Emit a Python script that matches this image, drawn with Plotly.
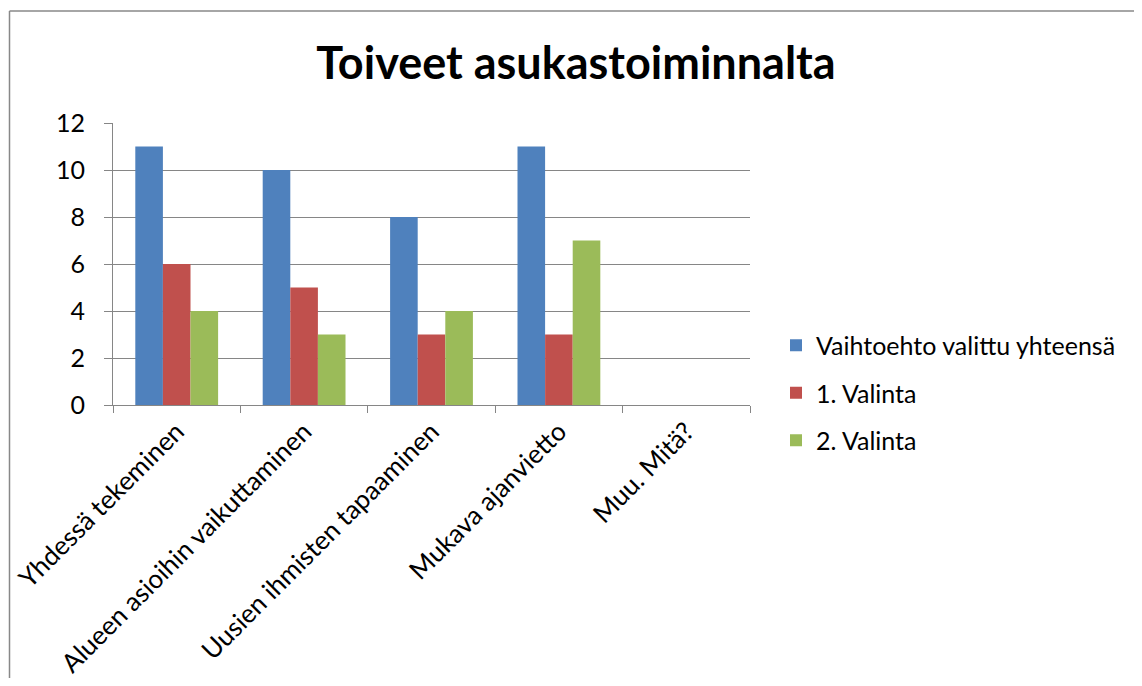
import plotly.graph_objects as go

categories = ["Yhdessä tekeminen", "Alueen asioihin vaikuttaminen",
              "Uusien ihmisten tapaaminen", "Mukava ajanvietto", "Muu. Mitä?"]
series_names = ["Vaihtoehto valittu yhteensä", "1. Valinta", "2. Valinta"]
total_values = [11, 10, 8, 11, 0]
first_values = [6, 5, 3, 3, 0]
second_values = [4, 3, 4, 7, 0]
colors = ["#4F81BD", "#C0504D", "#9BBB59"]

FONT = "Lato, Carlito, Calibri, 'Open Sans', sans-serif"

fig = go.Figure()
for i, (name, vals) in enumerate(zip(series_names, [total_values, first_values, second_values])):
    fig.add_trace(go.Bar(x=categories, y=vals, name=name, marker_color=colors[i],
                         marker_line_width=0, legendgroup=f"g{i}"))

OFF = 8  # page body margin
W, H = 1142 - 2 * OFF, 686 - 2 * OFF
# plot area in page pixels: x 113..750, y 123..405
L = 113 - OFF
T = 123 - OFF
R = W - (750 - OFF)
B = H - (405 - OFF)
pw = W - L - R
ph = H - T - B

def px_x(p):
    return (p - OFF - L) / pw

def px_y(p):
    return (H - B - (p - OFF)) / ph

border = dict(color="#888888", width=1.5)

fig.update_layout(
    width=W, height=H,
    margin=dict(l=L, r=R, t=T, b=B, autoexpand=False),
    plot_bgcolor="white", paper_bgcolor="white",
    font=dict(family=FONT, size=25, color="black"),
    title=dict(text="<b>Toiveet asukastoiminnalta</b>", x=px_x(576), xref="paper",
               xanchor="center", y=1 - (63 - OFF) / H, yanchor="middle",
               font=dict(family=FONT, size=45, color="black")),
    barmode="group", bargap=0.35, bargroupgap=0,
    showlegend=True,
    legend=dict(x=px_x(776), xanchor="left", y=px_y(393), yanchor="middle",
                font=dict(family=FONT, size=25), tracegroupgap=12,
                bgcolor="rgba(0,0,0,0)"),
    xaxis=dict(showline=True, linecolor="#868686", linewidth=1, automargin=False,
               ticks="outside", tickson="boundaries", ticklen=7, tickcolor="#868686",
               tickangle=-45, showgrid=False, tickfont=dict(family=FONT, size=26)),
    yaxis=dict(range=[0, 12], dtick=2, showline=True, linecolor="#868686", linewidth=1,
               automargin=False,
               ticks="outside", ticklen=8, tickcolor="#868686",
               showgrid=True, gridcolor="#868686", gridwidth=1, zeroline=False,
               tickfont=dict(family=FONT, size=25), ticklabelstandoff=14),
    shapes=[
        dict(type="line", xref="paper", yref="paper",
             x0=px_x(9.5), x1=px_x(9.5), y0=px_y(11), y1=px_y(900),
             line=border, layer="below"),
        dict(type="line", xref="paper", yref="paper",
             x0=px_x(9.5), x1=px_x(1300), y0=px_y(11), y1=px_y(11),
             line=border, layer="below"),
    ],
)

fig.write_html("out.html")
